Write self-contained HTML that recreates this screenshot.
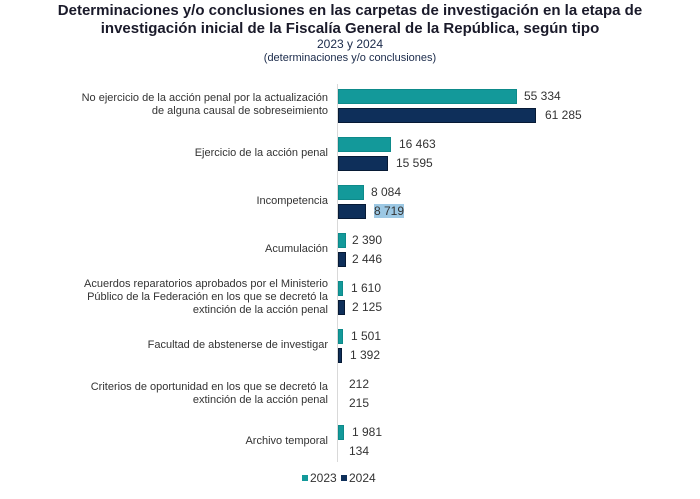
<!DOCTYPE html>
<html><head><meta charset="utf-8"><style>
body{margin:0;width:700px;height:499px;background:#fff;font-family:"Liberation Sans",Arial,sans-serif;position:relative;overflow:hidden;color:#333}
.t{position:absolute;left:0;width:700px;text-align:center;color:#1a2a4a}
.b{position:absolute;height:15px;box-sizing:border-box}
.a{background:#13999a;border:1px solid #0d8a8a}
.n{background:#0e2f5a;border:1px solid #071a35}
.v{position:absolute;font-size:12px;color:#333;line-height:14px}
.l{position:absolute;right:372px;text-align:right;font-size:11px;line-height:13px;color:#333}
</style></head><body>
<div class="t" style="top:2px;font-size:15px;font-weight:bold;line-height:18px;color:#1a1a2a">Determinaciones y/o conclusiones en las carpetas de investigación en la etapa de<br>investigación inicial de la Fiscalía General de la República, según tipo</div>
<div class="t" style="top:37px;font-size:12px;line-height:14px">2023 y 2024</div>
<div class="t" style="top:52px;font-size:11px;line-height:13px">(determinaciones y/o conclusiones)</div>
<div style="position:absolute;left:337px;top:84px;width:1px;height:378px;background:#d9d9d9"></div>

<div class="l" style="top:92px">No ejercicio de la acción penal por la actualización<br>de alguna causal de sobreseimiento</div>
<div class="b a" style="left:338px;top:89px;width:179px"></div><div class="v" style="left:524px;top:89px">55 334</div>
<div class="b n" style="left:338px;top:108px;width:198px"></div><div class="v" style="left:545px;top:108px">61 285</div>

<div class="l" style="top:147px">Ejercicio de la acción penal</div>
<div class="b a" style="left:338px;top:137px;width:53px"></div><div class="v" style="left:399px;top:137px">16 463</div>
<div class="b n" style="left:338px;top:156px;width:50px"></div><div class="v" style="left:396px;top:156px">15 595</div>

<div class="l" style="top:195px">Incompetencia</div>
<div class="b a" style="left:338px;top:185px;width:26px"></div><div class="v" style="left:371px;top:185px">8 084</div>
<div class="b n" style="left:338px;top:204px;width:28px"></div><div class="v" style="left:374px;top:204px;background:#9cc8e4">8 719</div>

<div class="l" style="top:243px">Acumulación</div>
<div class="b a" style="left:338px;top:233px;width:8px"></div><div class="v" style="left:352px;top:233px">2 390</div>
<div class="b n" style="left:338px;top:252px;width:8px"></div><div class="v" style="left:352px;top:252px">2 446</div>

<div class="l" style="top:278px">Acuerdos reparatorios aprobados por el Ministerio<br>Público de la Federación en los que se decretó la<br>extinción de la acción penal</div>
<div class="b a" style="left:338px;top:281px;width:5px"></div><div class="v" style="left:351px;top:281px">1 610</div>
<div class="b n" style="left:338px;top:300px;width:7px"></div><div class="v" style="left:352px;top:300px">2 125</div>

<div class="l" style="top:339px">Facultad de abstenerse de investigar</div>
<div class="b a" style="left:338px;top:329px;width:5px"></div><div class="v" style="left:351px;top:329px">1 501</div>
<div class="b n" style="left:338px;top:348px;width:4px"></div><div class="v" style="left:350px;top:348px">1 392</div>

<div class="l" style="top:381px">Criterios de oportunidad en los que se decretó la<br>extinción de la acción penal</div>
<div class="v" style="left:349px;top:377px">212</div>
<div class="v" style="left:349px;top:396px">215</div>

<div class="l" style="top:435px">Archivo temporal</div>
<div class="b a" style="left:338px;top:425px;width:6px"></div><div class="v" style="left:352px;top:425px">1 981</div>
<div class="v" style="left:349px;top:444px">134</div>

<div style="position:absolute;left:302px;top:475px;width:6px;height:6px;background:#13999a"></div>
<div class="v" style="left:310px;top:471px">2023</div>
<div style="position:absolute;left:341px;top:475px;width:6px;height:6px;background:#0e2f5a"></div>
<div class="v" style="left:349px;top:471px">2024</div>
</body></html>
